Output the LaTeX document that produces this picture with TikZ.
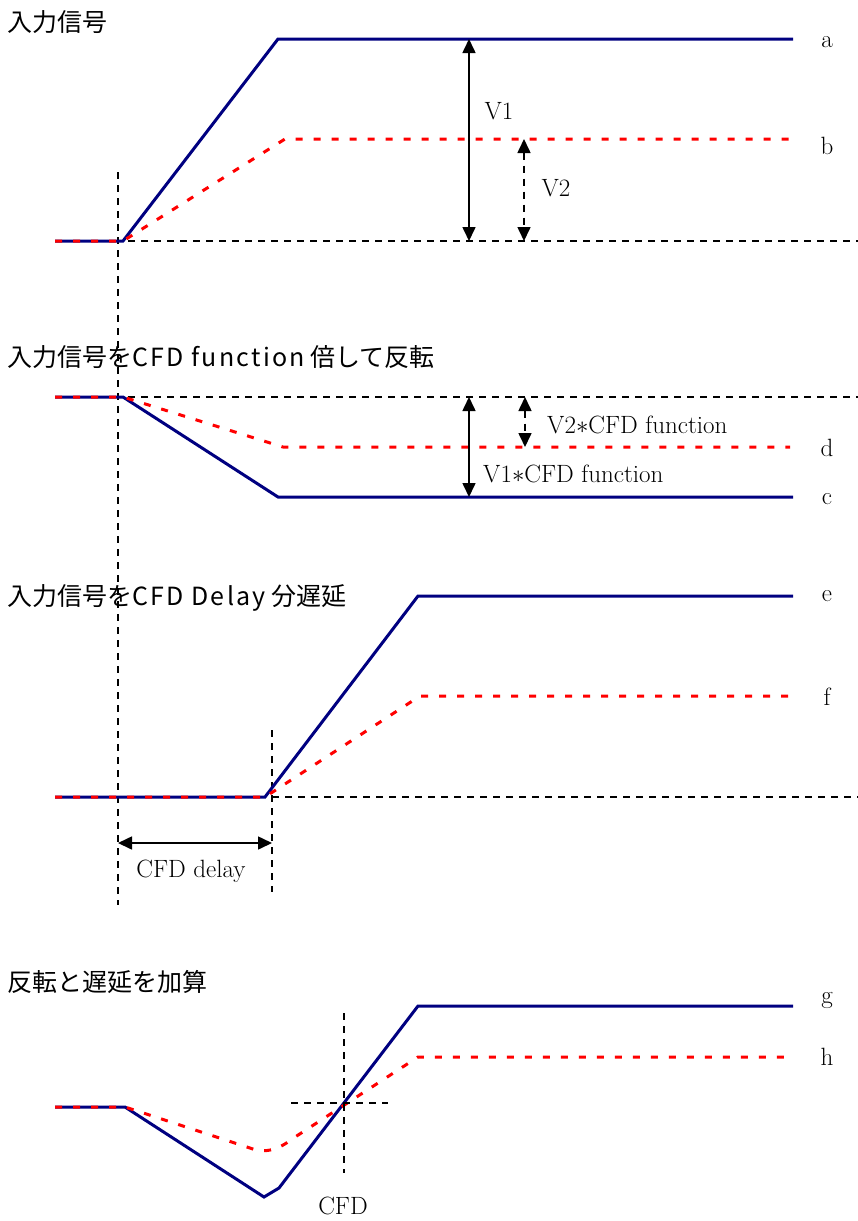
\documentclass[tikz,border=0pt]{standalone}
\usepackage{fontspec}
\newfontfamily\jp{Noto Sans CJK JP}
\newfontfamily\jplat{Noto Sans CJK JP}[LetterSpace=9]
\usetikzlibrary{arrows.meta}
\definecolor{sigblue}{RGB}{0,0,128}
\definecolor{sigred}{RGB}{255,0,0}
\newcommand{\lat}[1]{{\jplat #1}}
\begin{document}
\begin{tikzpicture}[x=1pt,y=-1pt,
  bluesig/.style={sigblue,line width=3pt,line join=miter},
  redsig/.style={sigred,line width=3pt,dash pattern=on 7pt off 11pt},
  refline/.style={black,line width=1.6pt,dash pattern=on 7pt off 6pt},
  meas/.style={black,line width=1.6pt,{Triangle[length=14pt,width=13pt]}-{Triangle[length=14pt,width=13pt]}},
  measd/.style={meas,dash pattern=on 7pt off 6pt},
  ttl/.style={anchor=west,inner sep=0pt,font=\jp\fontsize{25}{28}\selectfont},
  lbl/.style={inner sep=0pt,font=\fontsize{25}{28}\selectfont},
]
\useasboundingbox (0,0) rectangle (858,1221);

% long vertical reference line
\coordinate (vt) at (118,172);
\coordinate (vb) at (118,905);
\draw[refline] (vt) -- (vb);

% ---------- section 1 ----------
\node[ttl] (t1) at (7,22) {入力信号};
\coordinate (b1s) at (128,241); \coordinate (b1e) at (858,241);
\draw[refline] (b1s) -- (b1e);
\coordinate (a0) at (55,241); \coordinate (a1) at (123,241);
\coordinate (a2) at (278,39); \coordinate (a3) at (793,39);
\draw[bluesig] (a0) -- (a1) -- (a2) -- (a3);
\coordinate (r1) at (285,139); \coordinate (r2) at (790,139);
\draw[redsig] (a0) -- (a1) -- (r1) -- (r2);
\coordinate (m1t) at (469,39); \coordinate (m1b) at (469,241);
\draw[meas] (m1t) -- (m1b);
\coordinate (m2t) at (524,139); \coordinate (m2b) at (524,241);
\draw[measd] (m2t) -- (m2b);
\node[lbl] (v1) at (499,111) {V1};
\node[lbl] (v2) at (556,188) {V2};
\node[lbl] (la) at (827,42) {a};
\node[lbl] (lb) at (827,146) {b};

% ---------- section 2 ----------
\node[ttl] (t2) at (7,357) {入力信号を\lat{CFD function} 倍して反転};
\coordinate (b2s) at (128,397); \coordinate (b2e) at (858,397);
\draw[refline] (b2s) -- (b2e);
\coordinate (c0) at (55,397); \coordinate (c1) at (123,397);
\coordinate (c2) at (278,497); \coordinate (c3) at (793,497);
\draw[bluesig] (c0) -- (c1) -- (c2) -- (c3);
\coordinate (d2) at (283,447); \coordinate (d3) at (790,447);
\draw[redsig] (c0) -- (c1) -- (d2) -- (d3);
\coordinate (m3t) at (469,397); \coordinate (m3b) at (469,497);
\draw[meas] (m3t) -- (m3b);
\coordinate (m4t) at (525,397); \coordinate (m4b) at (525,447);
\draw[measd] (m4t) -- (m4b);
\node[lbl,anchor=west] (v2f) at (547,425) {V2$\ast$CFD function};
\node[lbl,anchor=west] (v1f) at (483,474) {V1$\ast$CFD function};
\node[lbl] (ld) at (827,448) {d};
\node[lbl] (lc) at (827,499) {c};

% ---------- section 3 ----------
\node[ttl] (t3) at (7,598) {入力信号を\lat{CFD Delay} 分遅延};
\coordinate (b3s) at (272,797); \coordinate (b3e) at (858,797);
\draw[refline] (b3s) -- (b3e);
\coordinate (dvt) at (272,730); \coordinate (dvb) at (272,892);
\draw[refline] (dvt) -- (dvb);
\coordinate (e0) at (55,797); \coordinate (e1) at (265,797);
\coordinate (e2) at (418,596); \coordinate (e3) at (793,596);
\draw[bluesig] (e0) -- (e1) -- (e2) -- (e3);
\coordinate (f2) at (420,696); \coordinate (f3) at (790,696);
\draw[redsig] (e0) -- (e1) -- (f2) -- (f3);
\coordinate (dl) at (118,843); \coordinate (dr) at (272,843);
\draw[meas] (dl) -- (dr);
\node[lbl] (cfdd) at (191,871) {CFD delay};
\node[lbl] (le) at (827,596) {e};
\node[lbl] (lf) at (827,697) {f};

% ---------- section 4 ----------
\node[ttl] (t4) at (7,982) {反転と遅延を加算};
\coordinate (g0) at (55,1107); \coordinate (g1) at (125,1107);
\coordinate (g2) at (264,1197); \coordinate (g3) at (279,1188);
\coordinate (g4) at (418,1006); \coordinate (g5) at (793,1006);
\draw[bluesig] (g0) -- (g1) -- (g2) -- (g3) -- (g4) -- (g5);
\coordinate (h1) at (250,1148); \coordinate (h2) at (292,1139);
\coordinate (h3) at (418,1057); \coordinate (h4) at (790,1057);
\draw[redsig] (g0) -- (g1) -- (h1) .. controls (264,1154) and (278,1150) .. (h2) -- (h3) -- (h4);
\coordinate (xvt) at (344,1013); \coordinate (xvb) at (344,1173);
\draw[refline] (xvt) -- (xvb);
\coordinate (xhl) at (291,1103); \coordinate (xhr) at (388,1103);
\draw[refline] (xhl) -- (xhr);
\node[lbl] (cfd) at (343,1206) {CFD};
\node[lbl] (lg) at (827,1000) {g};
\node[lbl] (lh) at (827,1057) {h};
\end{tikzpicture}
\end{document}
